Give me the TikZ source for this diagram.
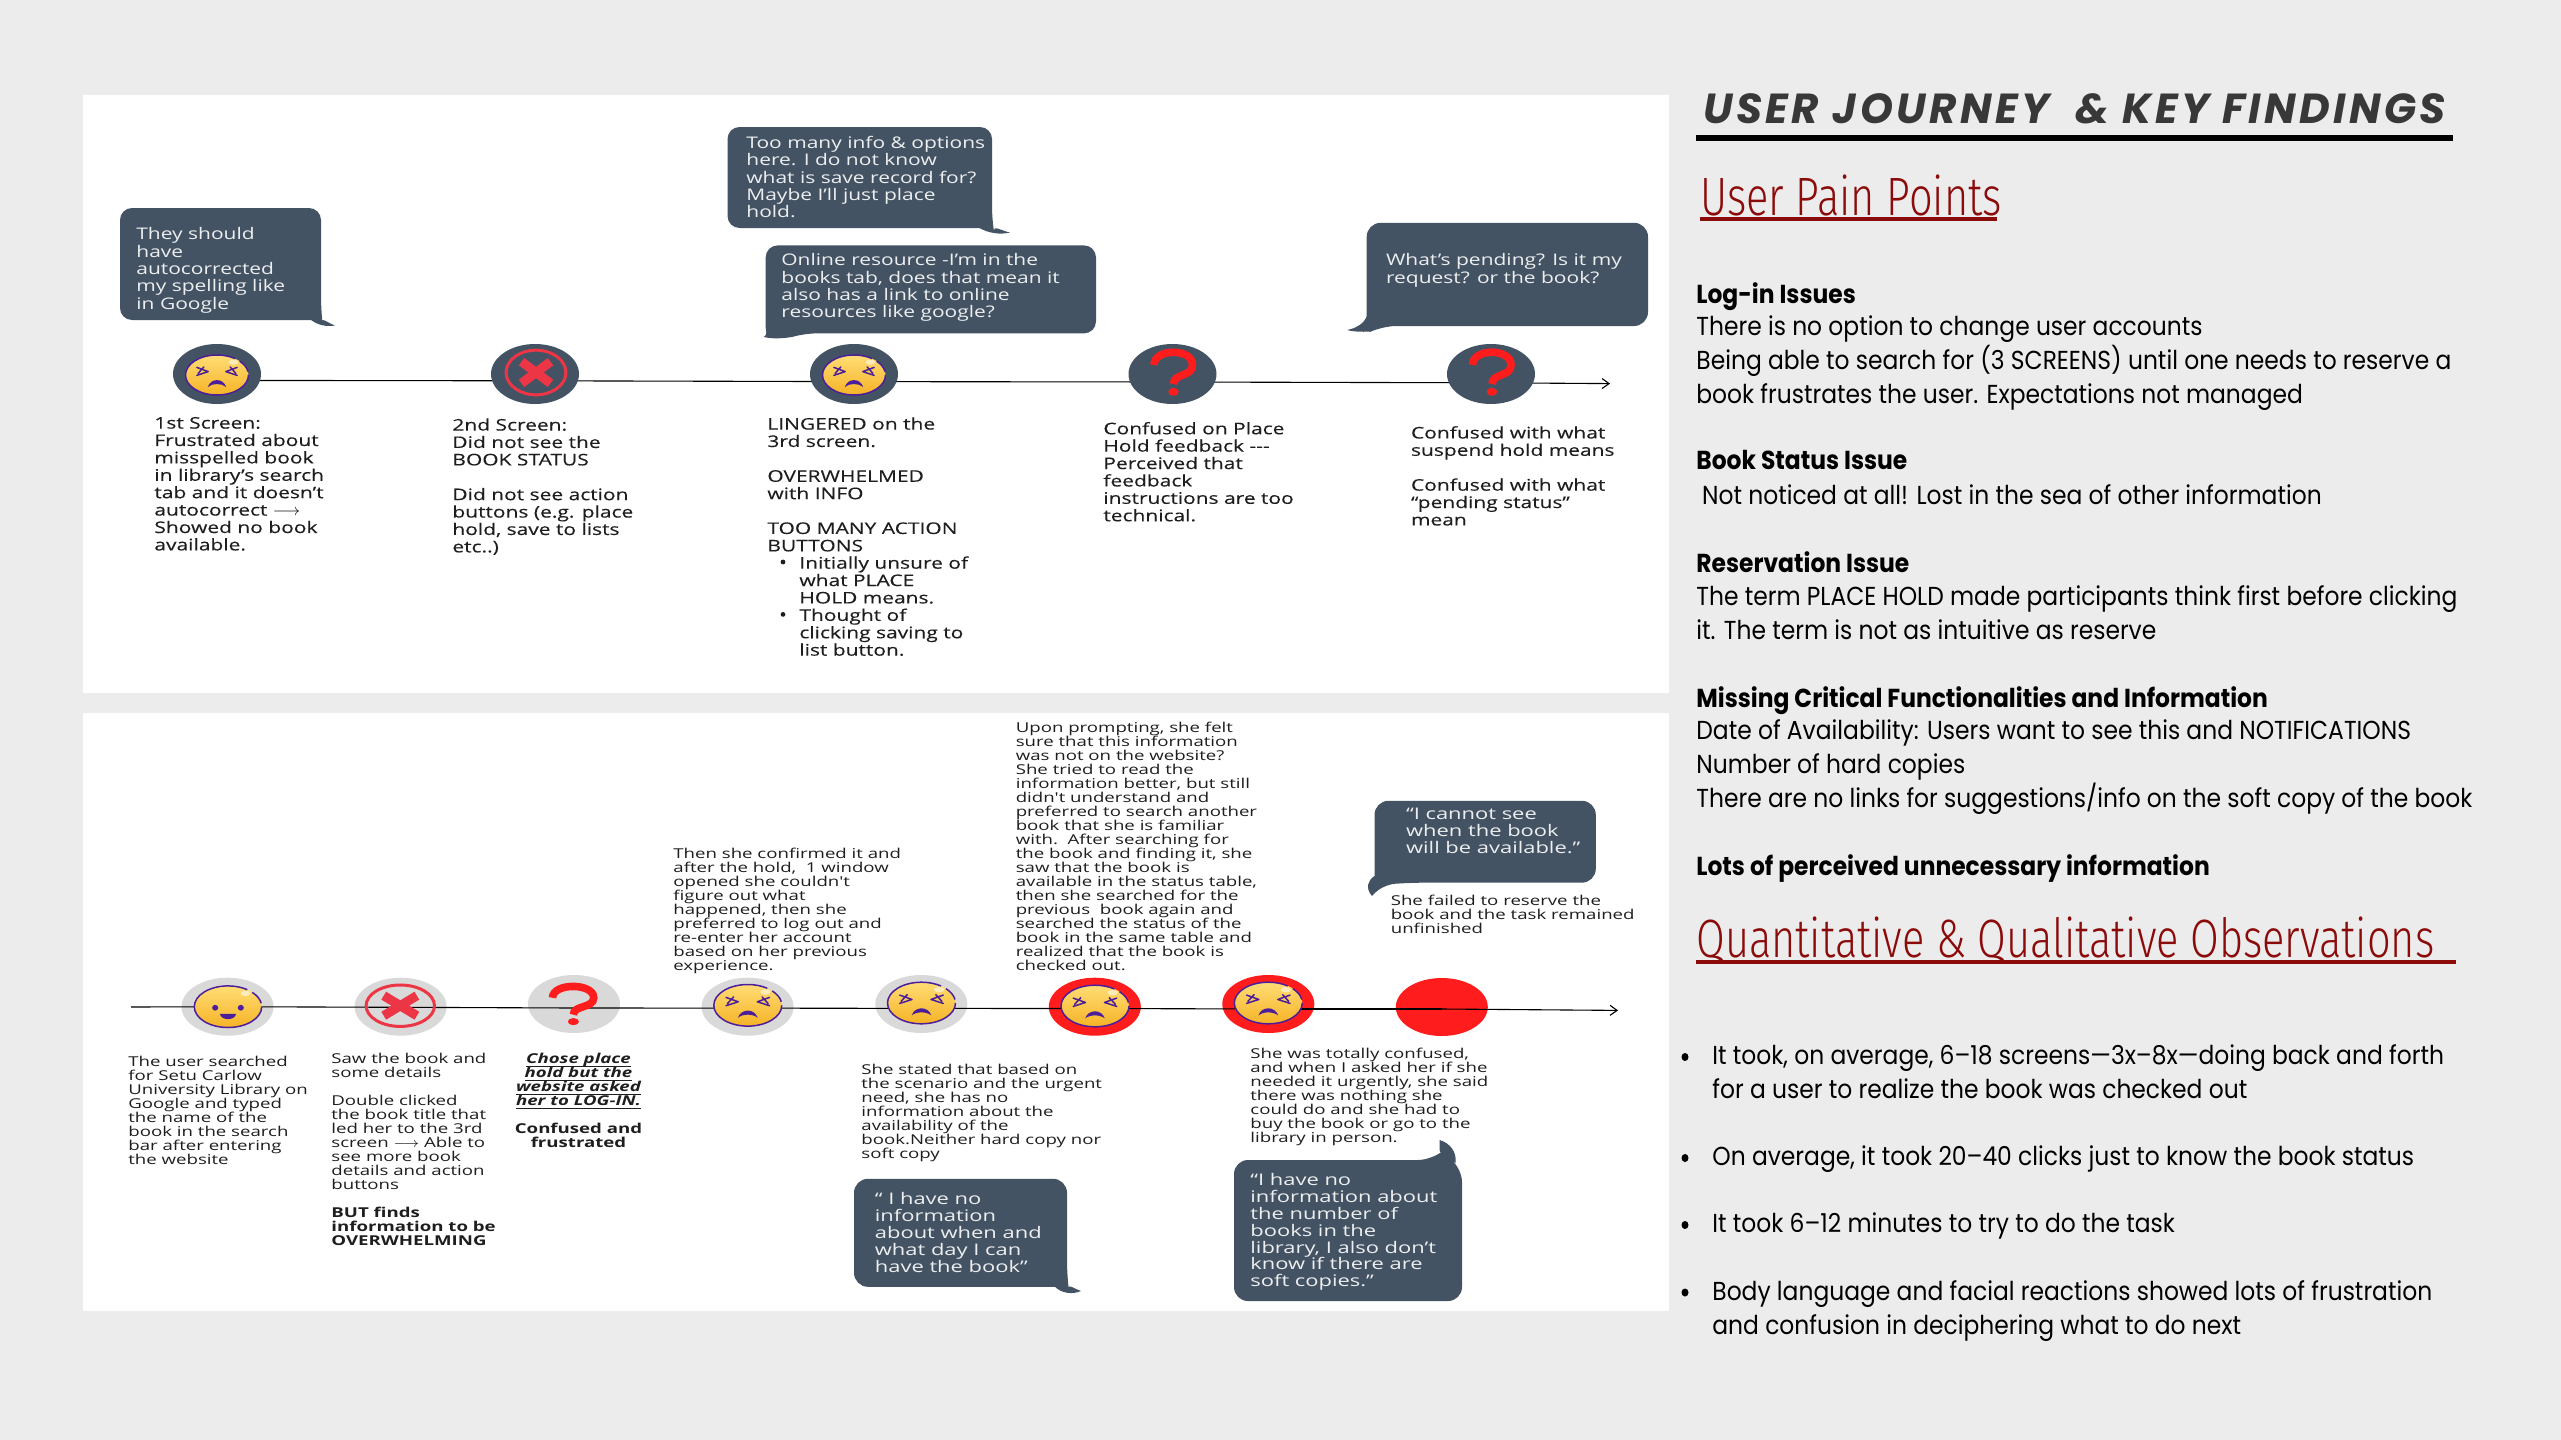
\documentclass[tikz,border=0pt]{standalone}
\usepackage{fontspec}
\usetikzlibrary{shapes.geometric,arrows.meta,calc}
\newfontfamily\inter[FakeStretch=1.31]{Open Sans}
\newfontfamily\interm[FakeStretch=1.31,FakeBold=0.2]{Open Sans}
\newfontfamily\interb[FakeStretch=1.37]{Open Sans}
\newfontfamily\pop[FakeStretch=0.90]{Poppins}
\newfontfamily\ttl[LetterSpace=8]{Poppins}
\newfontfamily\hand[FakeStretch=0.77]{Fira Sans Light}
\definecolor{pagebg}{HTML}{ECECEC}
\definecolor{slate}{HTML}{445363}
\definecolor{ink}{HTML}{1E1E1E}
\definecolor{softgrey}{HTML}{D9D9D9}
\definecolor{hot}{HTML}{FF1C1C}
\definecolor{xred}{HTML}{EC3545}
\definecolor{facel}{HTML}{4B1E9B}
\definecolor{maroon}{HTML}{8B0A0A}
\definecolor{ytop}{HTML}{FFDD75}
\definecolor{ybot}{HTML}{F6B326}
\pgfdeclarelayer{under}
\pgfsetlayers{under,main}
\tikzset{
 px/.style={x=0.5pt,y=-0.5pt},
 panel/.style={fill=white,draw=none},
 darkdot/.style={ellipse,fill=slate,minimum width=44pt,minimum height=30pt,inner sep=0pt},
 greydot/.style={ellipse,fill=softgrey,minimum width=46pt,minimum height=29pt,inner sep=0pt},
 reddot/.style={ellipse,fill=hot,minimum width=46pt,minimum height=29pt,inner sep=0pt},
 tl/.style={draw=black,line width=0.55pt},
 tla/.style={tl,-{Straight Barb[length=3.5pt,width=5pt]}},
 bub/.style={fill=slate,draw=none},
 topt/.style={anchor=north west,inner sep=0pt,align=left,text=ink,yshift=3pt,font=\interm\fontsize{8}{8.7}\selectfont},
 botr/.style={anchor=north west,inner sep=0pt,align=left,text=ink,yshift=2.7pt,font=\interb\fontsize{6.8}{7}\selectfont},
 bubt/.style={anchor=north west,inner sep=0pt,align=left,text=white!90!slate,yshift=2.8pt,font=\inter\fontsize{8}{8.7}\selectfont},
 bubb/.style={anchor=north west,inner sep=0pt,align=left,text=white!90!slate,yshift=2.8pt,font=\interb\fontsize{8}{8.4}\selectfont},
 rhead/.style={anchor=north west,inner sep=0pt,text=black,yshift=5.6pt,font=\pop\bfseries\fontsize{13}{17}\selectfont},
 rbody/.style={anchor=north west,inner sep=0pt,align=left,text=black,yshift=5.6pt,font=\pop\fontsize{13}{17}\selectfont},
 hd/.style={anchor=base west,inner sep=0pt,text=maroon,font=\hand\fontsize{27}{29}\selectfont},
 eye/.style={facel,line width=0.75pt,line cap=round,line join=round},
}
\newcommand\fs{\rule{0pt}{5pt}}
\newcommand\fr{\rule{0pt}{7pt}}
\newcommand\ul[1]{\smash{\underline{\smash{#1}}}}
\newcommand\facebase{%
  \shade[top color=ytop,bottom color=ybot,draw=none] (0,0) ellipse (1 and 1);
  \draw[facel,line width=0.75pt] (0.72,-0.69) arc (-44:-10:1) (1,0) arc (0:305:1);
  \fill[white,opacity=.55] (.52,-.64) ellipse (.15 and .13);}
\newcommand\sadface[4]{%
 \begin{scope}[shift={(#1,#2)},x=#3*0.5pt,y=-#4*0.5pt]
  \facebase
  \draw[eye] (-.64,-.38)--(-.28,-.17)--(-.64,.02) (-.6,-.08)--(-.42,-.4) ;
  \draw[eye] (.64,-.38)--(.28,-.17)--(.64,.02) (.6,-.08)--(.42,-.4) ;
  \fill[facel] (-.29,.6) .. controls (-.2,.14) and (.2,.14) .. (.29,.6) .. controls (.15,.4) and (-.15,.4) .. (-.29,.6);
 \end{scope}}
\newcommand\happyface[4]{%
 \begin{scope}[shift={(#1,#2)},x=#3*0.5pt,y=-#4*0.5pt]
  \facebase
  \fill[facel] (-.38,.05) ellipse (.09 and .14) (.38,.05) ellipse (.09 and .14);
  \fill[facel] (-.24,.35) -- (.24,.35) .. controls (.2,.68) and (-.2,.68) .. (-.24,.35);
 \end{scope}}
\newcommand\xicon[4]{%
 \begin{scope}[shift={(#1,#2)},x=#3*0.5pt,y=-#4*0.5pt]
  \draw[xred,line width=1.5pt] (0,0) ellipse (.95 and .95);
  \draw[xred,line width=4.6pt] (-.46,-.46)--(.46,.46) (-.46,.46)--(.46,-.46);
 \end{scope}}
\newcommand\qicon[4]{%
 \begin{scope}[shift={(#1,#2)},x=#3*0.5pt,y=-#4*0.5pt]
  \draw[hot,line width=3.8pt] (-19.5,-7) .. controls (-19.5,-24) and (19,-24) .. (19,-7) .. controls (19,5) and (0,1) .. (0,12);
  \fill[hot] (0,19.8) ellipse (5.2 and 4);
 \end{scope}}
\begin{document}
\begin{tikzpicture}[px]
\useasboundingbox (0,0) rectangle (2561,1440);
\begin{pgfonlayer}{under}
\fill[pagebg] (0,0) rectangle (2561,1440);
\fill[panel] (83,95) rectangle (1669,693);
\fill[panel] (83,713) rectangle (1669,1311);
\end{pgfonlayer}

% --- top journey
\node[darkdot] (t1) at (217,374) {};
\node[darkdot] (t2) at (535,374) {};
\node[darkdot] (t3) at (854,374) {};
\node[darkdot] (t4) at (1172.5,374) {};
\node[darkdot] (t5) at (1491,374) {};
\coordinate (tend) at (1610,383.6);
\begin{pgfonlayer}{under}
\draw[tl] ([yshift=-3.2pt]t1.center)--([yshift=-3.4pt]t2.center);
\draw[tl] ([yshift=-3.4pt]t2.center)--([yshift=-3.8pt]t3.center);
\draw[tl] ([yshift=-3.8pt]t3.center)--([yshift=-4pt]t4.center);
\draw[tl] ([yshift=-4pt]t4.center)--([yshift=-4.4pt]t5.center);
\draw[tla] ([yshift=-4.4pt]t5.center)--(tend);
\end{pgfonlayer}
\sadface{217}{375}{31.5}{20}
\xicon{536}{372.5}{31.5}{23.5}
\sadface{854}{375}{31.5}{20}
\qicon{1173.5}{372}{1}{1}
\qicon{1492}{372}{1}{1}

\fill[bub,rounded corners=6pt] (120,208) -- (321,208) -- (321,308.6) [sharp corners] .. controls (322,318) and (330,324) .. (335,325.5) .. controls (326,327) and (318,325) .. (311,320) [rounded corners=6pt] -- (120,320) -- cycle;
\fill[bub,rounded corners=6pt] (727.5,127) -- (992,127) -- (992,218.6) [sharp corners] .. controls (993,225) and (1002,231) .. (1010,232.5) .. controls (1000,235) and (988,233) .. (979.5,228) [rounded corners=6pt] -- (727.5,228) -- cycle;
\fill[bub,rounded corners=6pt] (765.7,245.4) -- (1096,245.4) -- (1096,333.4) -- (804.5,333.4) [sharp corners] .. controls (792,337) and (776,340) .. (763.7,337) .. controls (768,335) and (765.7,331) .. (765.7,327.7) [rounded corners=6pt] -- cycle;
\fill[bub,rounded corners=7pt] (1366.7,222.8) -- (1648,222.8) -- (1648,326) -- (1382.5,326) [sharp corners] .. controls (1372,331) and (1358,333) .. (1347,330) .. controls (1358,328) and (1365,322) .. (1366.7,316) [rounded corners=7pt] -- cycle;

\node[bubt] (q1) at (136,232.8) {\fs They should\\have\\autocorrected\\my spelling like\\in Google};
\node[bubt] (q2) at (746,141.3) {\fs Too many info \& options\\here. I do not know\\what is save record for?\\Maybe I’ll just place\\hold.};
\node[bubt] (q3) at (781,258.8) {\fs Online resource -I’m in the\\books tab, does that mean it\\also has a link to online\\resources like google?};
\node[bubt] (q4) at (1385.6,258.8) {\fs What’s pending? Is it my\\request? or the book?};

\node[topt] (n1) at (154,422.6) {\fs 1st Screen:\\Frustrated about\\misspelled book\\in library’s search\\tab and it doesn’t\\autocorrect $\longrightarrow$\\Showed no book\\available.};
\node[topt] (n2) at (452,424) {\fs 2nd Screen:\\Did not see the\\BOOK STATUS\\[8.7pt]Did not see action\\buttons (e.g. place\\hold, save to lists\\etc..)};
\node[topt] (n3) at (767,423) {\fs LINGERED on the\\3rd screen.\\[8.7pt]OVERWHELMED\\with INFO\\[8.7pt]TOO MANY ACTION\\BUTTONS};
\node[topt] (n3b) at (799,562) {\fs Initially unsure of\\what PLACE\\HOLD means.\\Thought of\\clicking saving to\\list button.};
\fill[ink] (783,562) circle (2.4);
\fill[ink] (783,614.4) circle (2.4);
\node[topt] (n4) at (1103,427.6) {\fs Confused on Place\\Hold feedback ---\\Perceived that\\feedback\\instructions are too\\technical.};
\node[topt] (n5) at (1410.6,431.8) {\fs Confused with what\\suspend hold means\\[8.7pt]Confused with what\\“pending status”\\mean};

% --- bottom journey
\node[greydot] (b1) at (227.5,1006.7) {};
\node[greydot] (b2) at (400.6,1006.7) {};
\node[greydot] (b3) at (574,1004) {};
\node[greydot] (b4) at (747.6,1006.7) {};
\node[greydot] (b5) at (921.3,1004) {};
\node[reddot] (b6) at (1094.8,1006.7) {};
\node[reddot] (b7) at (1268.3,1004) {};
\node[reddot] (b8) at (1441.8,1007) {};
\coordinate (bstart) at (131,1007);
\coordinate (bend) at (1618,1010.4);
\draw[tl] (bstart)--([yshift=0pt]b1.center);
\draw[tl] (b1.center)--([yshift=-.3pt]b2.center);
\draw[tl] ([yshift=-.3pt]b2.center)--([yshift=-2pt]b3.center);
\draw[tl] ([yshift=-2pt]b3.center)--([yshift=-.7pt]b4.center);
\draw[tl] ([yshift=-.7pt]b4.center)--([yshift=-2.2pt]b5.center);
\draw[tl] ([yshift=-2.2pt]b5.center)--([yshift=-.9pt]b6.center);
\draw[tl] ([yshift=-.9pt]b6.center)--([yshift=-2.5pt]b7.center);
\draw[tl] ([yshift=-2.5pt]b7.center)--([yshift=-1pt]b8.center);
\draw[tla] ([yshift=-1pt]b8.center)--(bend);
\happyface{228}{1006.7}{33.7}{20.8}
\xicon{400.3}{1005.7}{36}{21.8}
\qicon{573.4}{1004}{1.07}{.89}
\sadface{747.8}{1005.3}{34}{20.8}
\sadface{921.5}{1003}{34}{20.8}
\sadface{1095}{1006}{34}{20.8}
\sadface{1268.3}{1003}{34}{20.8}

\fill[bub,rounded corners=7pt] (1374.5,800.8) -- (1595.8,800.8) -- (1595.8,882.7) -- (1409,882.7) [sharp corners] .. controls (1392,884) and (1380,886) .. (1372,896) .. controls (1365,888) and (1368,880) .. (1374.5,876) [rounded corners=7pt] -- cycle;
\fill[bub,rounded corners=7pt] (854,1178.8) -- (1067,1178.8) -- (1067,1275) [sharp corners] .. controls (1068,1283) and (1074,1289) .. (1081,1291) .. controls (1072,1295) and (1061,1293) .. (1055,1286.8) [rounded corners=7pt] -- (854,1286.8) -- cycle;
\fill[bub,rounded corners=7pt] (1234,1160) -- (1432,1160) [sharp corners] .. controls (1438,1155) and (1440,1148) .. (1439.5,1140) .. controls (1450,1143) and (1457,1152) .. (1455.5,1163) [rounded corners=7pt] -- (1462,1168) -- (1462,1301) -- (1234,1301) -- cycle;

\node[bubb] (q5) at (1405.7,813.5) {\fs “I cannot see\\when the book\\will be available.”};
\node[bubb] (q6) at (874.5,1198) {\fs “ I have no\\information\\about when and\\what day I can\\have the book”};
\node[bubb] (q7) at (1250,1179) {\fs “I have no\\information about\\the number of\\books in the\\library, I also don’t\\know if there are\\soft copies.”};

\node[botr] (m1) at (128,1061) {\fs The user searched\\for Setu Carlow\\University Library on\\Google and typed\\the name of the\\book in the search\\bar after entering\\the website};
\node[botr] (m2) at (331,1058.3) {\fs Saw the book and\\some details\\[7pt]Double clicked\\the book title that\\led her to the 3rd\\screen $\longrightarrow$ Able to\\see more book\\details and action\\buttons\\[7pt]\bfseries BUT finds\\\bfseries information to be\\\bfseries OVERWHELMING};
\node[botr,anchor=north,align=center,font=\interb\bfseries\itshape\fontsize{6.8}{7}\selectfont] (m3) at (578.5,1058.3) {\fs \ul{Chose place}\\\ul{hold but the}\\\ul{website asked}\\\ul{her to LOG-IN.}\\[7pt]\textup{Confused and}\\\textup{frustrated}};
\node[botr] (m4) at (673,852.7) {\fs Then she confirmed it and\\after the hold,\ \ 1 window\\opened she couldn't\\figure out what\\happened, then she\\preferred to log out and\\re-enter her account\\based on her previous\\experience.};
\node[botr] (m5) at (861,1069.3) {\fs She stated that based on\\the scenario and the urgent\\need, she has no\\information about the\\availability of the\\book.Neither hard copy nor\\soft copy};
\node[botr] (m6) at (1015.4,726.9) {\fs Upon prompting, she felt\\sure that this information\\was not on the website?\\She tried to read the\\information better, but still\\didn't understand and\\preferred to search another\\book that she is familiar\\with.\ \ After searching for\\the book and finding it, she\\saw that the book is\\available in the status table,\\then she searched for the\\previous\ \ book again and\\searched the status of the\\book in the same table and\\realized that the book is\\checked out.};
\node[botr] (m7) at (1250,1053.5) {\fs She was totally confused,\\and when I asked her if she\\needed it urgently, she said\\there was nothing she\\could do and she had to\\buy the book or go to the\\library in person.};
\node[botr] (m8) at (1390.4,900.5) {\fs She failed to reserve the\\book and the task remained\\unfinished};

% --- right column
\node[anchor=base west,inner sep=0pt,text=black!78,font=\ttl\bfseries\itshape\fontsize{21}{24}\selectfont] (title) at (1703,123.5) {USER JOURNEY\ \ \& KEY FINDINGS};
\coordinate (ruleL) at (1696,138);
\coordinate (ruleR) at (2453,138);
\draw[black,line width=2.6pt] (ruleL)--(ruleR);
\node[hd] (h1) at (1700,215) {User Pain Points};
\draw[maroon,line width=1.7pt] (1700,218.8)--(1997,218.8);
\node[hd] (h2) at (1696,957) {Quantitative \& Qualitative Observations};
\draw[maroon,line width=2.1pt] (1696,962.2)--(2455.7,962.2);

\node[rhead] (r1) at (1696,293.3) {\fr Log-in Issues};
\node[rbody] (r2) at (1696,327) {\fr There is no option to change user accounts\\Being able to search for (3 SCREENS) until one needs to reserve a\\book frustrates the user. Expectations not managed};
\node[rhead] (r3) at (1696,461.3) {\fr Book Status Issue};
\node[rbody] (r4) at (1701.7,495.7) {\fr Not noticed at all! Lost in the sea of other information};
\node[rhead] (r5) at (1696,562) {\fr Reservation Issue};
\node[rbody] (r6) at (1696,596.6) {\fr The term PLACE HOLD made participants think first before clicking\\it. The term is not as intuitive as reserve};
\node[rhead] (r7) at (1696,697.5) {\fr Missing Critical Functionalities and Information};
\node[rbody] (r8) at (1696,730.5) {\fr Date of Availability: Users want to see this and NOTIFICATIONS\\Number of hard copies\\There are no links for suggestions/info on the soft copy of the book};
\node[rhead] (r9) at (1696,865.4) {\fr Lots of perceived unnecessary information};
\node[rbody] (o1) at (1712,1055.5) {\fr It took, on average, 6–18 screens—3x–8x—doing back and forth\\for a user to realize the book was checked out};
\node[rbody] (o2) at (1712,1156.4) {\fr On average, it took 20–40 clicks just to know the book status};
\node[rbody] (o3) at (1712,1223.4) {\fr It took 6–12 minutes to try to do the task};
\node[rbody] (o4) at (1712,1291) {\fr Body language and facial reactions showed lots of frustration\\and confusion in deciphering what to do next};
\fill[black] (1685,1057) ellipse (3.5 and 4);
\fill[black] (1685,1158) ellipse (3.5 and 4);
\fill[black] (1685,1225) ellipse (3.5 and 4);
\fill[black] (1685,1292.5) ellipse (3.5 and 4);
\end{tikzpicture}
\end{document}
